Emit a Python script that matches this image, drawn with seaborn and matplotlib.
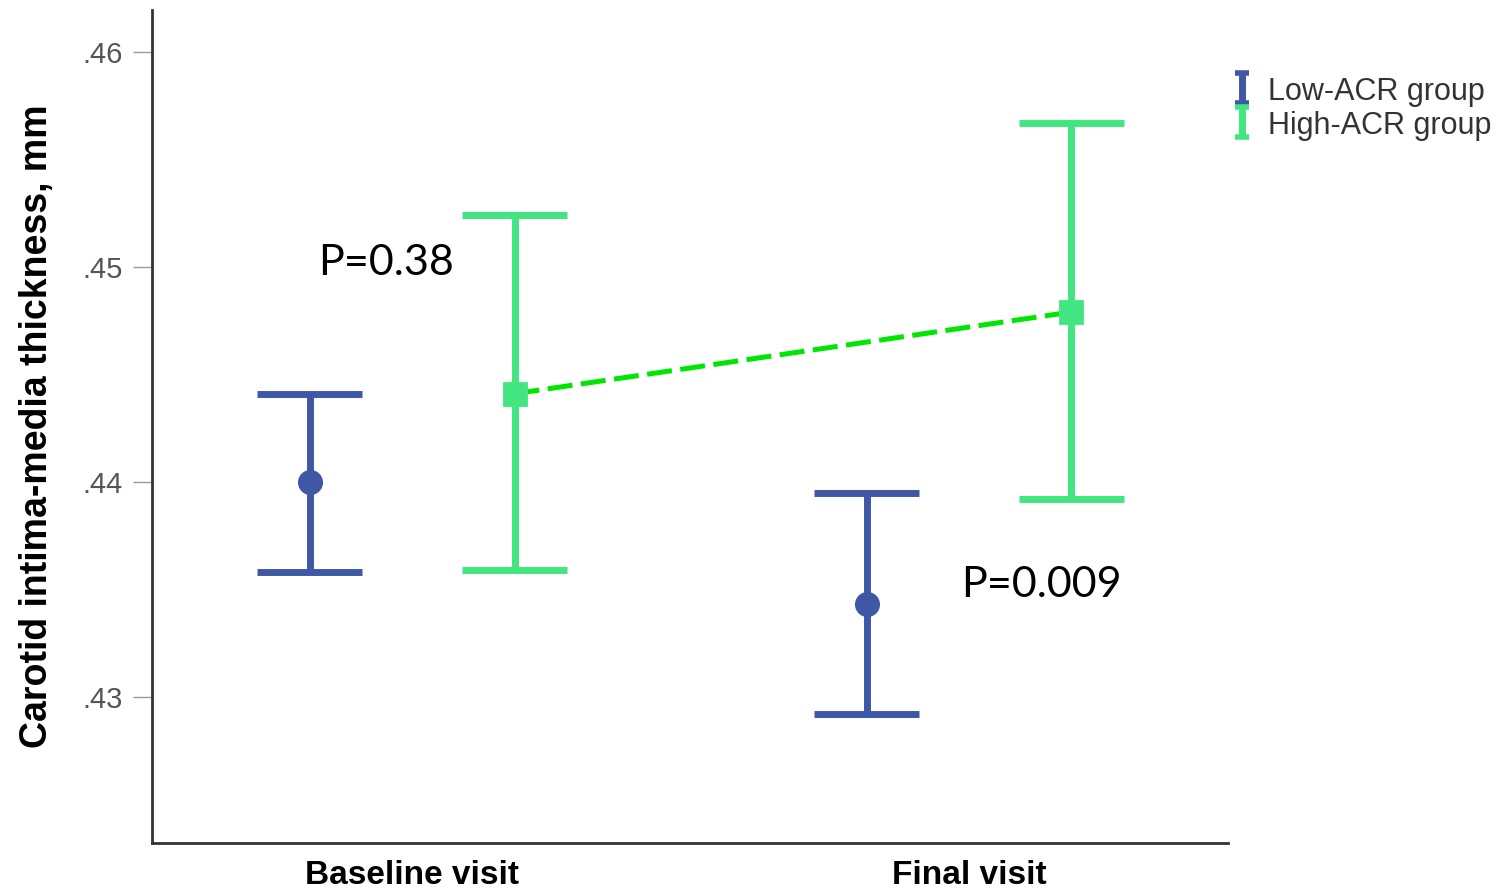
import numpy as np
import pandas as pd
import matplotlib
matplotlib.use("Agg")
import matplotlib.pyplot as plt
import seaborn as sns

# ---- data ----
visits = ["Baseline visit", "Final visit"]
groups = ["Low-ACR group", "High-ACR group"]
low_mean = [0.4400, 0.4343]
low_lo = [0.4358, 0.4292]
low_hi = [0.4441, 0.4395]
high_mean = [0.4441, 0.4479]
high_lo = [0.4359, 0.4392]
high_hi = [0.4524, 0.4567]
p_labels = ["P=0.38", "P=0.009"]
y_ticks = [0.43, 0.44, 0.45, 0.46]
y_tick_labels = [".43", ".44", ".45", ".46"]

colors = {"Low-ACR group": "#3F58A6", "High-ACR group": "#41E680"}
line_green = "#00E600"

# long table: lower bound, mean, upper bound per cell -> median = mean, min/max = CI
rows = []
for i, v in enumerate(visits):
    for g, m, lo, hi in [("Low-ACR group", low_mean, low_lo, low_hi),
                         ("High-ACR group", high_mean, high_lo, high_hi)]:
        for val in (lo[i], m[i], hi[i]):
            rows.append({"visit": v, "group": g, "imt": val})
df = pd.DataFrame(rows)

sns.set_style("white")
fig = plt.figure(figsize=(15.06, 8.93), dpi=100)
ax = fig.add_axes([0.1009, 0.056, 0.7145, 0.9328])

dodge = 0.368
sns.pointplot(data=df, x="visit", y="imt", hue="group", hue_order=groups,
              order=visits, palette=colors, estimator="median",
              errorbar=lambda x: (x.min(), x.max()), dodge=dodge,
              linestyle="none", markers=["o", "s"], markersize=16,
              capsize=0.19, err_kws={"linewidth": 5, "solid_capstyle": "butt"},
              legend=False, ax=ax)

# dashed connection between High-ACR means
xs = np.arange(len(visits)) + dodge / 2
ax.plot(xs, high_mean, color=line_green, linestyle=(0, (5, 1.7)), linewidth=3.6,
        zorder=1)

ax.set_xlim(-0.467, 1.465)
ax.set_ylim(0.4232, 0.46195)
ax.set_yticks(y_ticks)
ax.set_yticklabels(y_tick_labels)
ax.tick_params(axis="y", length=14, width=1, color="#999999", labelcolor="#555555",
               labelsize=21, pad=7, left=True)
ax.tick_params(axis="x", length=0, pad=12)
for lab in ax.get_yticklabels():
    lab.set_family(["Liberation Sans", "DejaVu Sans"])
for lab in ax.get_xticklabels():
    lab.set_family(["Liberation Sans", "DejaVu Sans"])
    lab.set_fontweight("bold")
    lab.set_fontsize(24)
    lab.set_color("black")

ax.set_xlabel("")
ax.set_ylabel("Carotid intima-media thickness, mm", fontsize=27, fontweight="bold",
              family=["Liberation Sans", "DejaVu Sans"], labelpad=20, color="black")

for s in ["top", "right"]:
    ax.spines[s].set_visible(False)
for s in ["left", "bottom"]:
    ax.spines[s].set_color("#333333")
    ax.spines[s].set_linewidth(2)

# p-value annotations
ax.text(-0.169, 0.45019, p_labels[0], fontsize=31, family=["Lato", "DejaVu Sans"],
        ha="left", va="center", color="black")
ax.text(0.986, 0.43521, p_labels[1], fontsize=31, family=["Lato", "DejaVu Sans"],
        ha="left", va="center", color="black")

# legend with error-bar icons
handles = []
for g in groups:
    h = ax.errorbar([np.nan], [np.nan], yerr=[[np.nan], [np.nan]], fmt="none",
                    ecolor=colors[g], elinewidth=5, capsize=5, capthick=4)
    handles.append(h)
leg = fig.legend(handles, groups, loc="upper left", bbox_to_anchor=(0.8014, 0.946),
                 frameon=False, handlelength=0.5, handletextpad=0.6,
                 labelspacing=0.1, handleheight=1.0,
                 prop={"family": ["Liberation Sans", "DejaVu Sans"], "size": 22})
for t in leg.get_texts():
    t.set_color("#333333")

fig.savefig("out.png", dpi=100)
